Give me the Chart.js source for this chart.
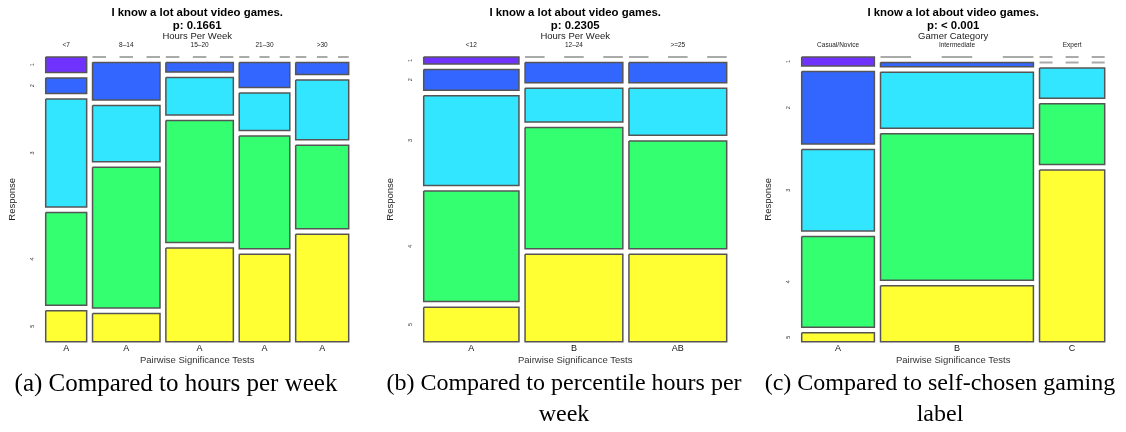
<!DOCTYPE html>
<html>
<head>
<meta charset="utf-8">
<title>I know a lot about video games.</title>
<script src="https://cdn.jsdelivr.net/npm/chart.js@4/dist/chart.umd.min.js"></script>
<style>
  html, body { margin: 0; padding: 0; background: #fff; }
  #figure { position: relative; width: 1126px; height: 432px; overflow: hidden; }
  #figure canvas { position: absolute; top: 0; }
  .caption {
    position: absolute; top: 367px;
    font-family: 'Liberation Serif', 'Times New Roman', serif;
    font-size: 25px; line-height: 31px; text-align: center; color: #000;
  }
  .caption.tight { font-size: 24px; }
</style>
</head>
<body>
<div id="figure">
  <canvas id="mosaicHours" width="370" height="368" style="left:0px"></canvas>
  <canvas id="mosaicPercentile" width="370" height="368" style="left:378px"></canvas>
  <canvas id="mosaicGamer" width="370" height="368" style="left:756px"></canvas>
  <div class="caption" style="left:0px;width:352px">(a) Compared to hours per week</div>
  <div class="caption tight" style="left:374px;width:380px">(b) Compared to percentile hours per week</div>
  <div class="caption tight" style="left:750px;width:380px">(c) Compared to self-chosen gaming label</div>
</div>
<script>
// Likert item and its response levels (1 = top of each column)
const statement = 'I know a lot about video games.';
const responseLevels = ['1', '2', '3', '4', '5'];
const levelColors = ['#7033FF', '#3366FF', '#33E6FF', '#33FF70', '#FFFF33'];

// (a) hours played per week
const hoursLabels = ['<7', '8–14', '15–20', '21–30', '>30'];
const hoursCounts = [
  [1, 1, 7, 6, 2],
  [0, 4, 6, 15, 3],
  [0, 1, 4, 13, 10],
  [0, 2, 3, 9, 7],
  [0, 1, 5, 7, 9]
];
const hoursLetters = ['A', 'A', 'A', 'A', 'A'];
const hoursP = '0.1661';

// (b) percentile groups of hours per week
const percentileLabels = ['<12', '12–24', '>=25'];
const percentileCounts = [
  [1, 3, 13, 16, 5],
  [0, 3, 5, 18, 13],
  [0, 3, 7, 16, 13]
];
const percentileLetters = ['A', 'B', 'AB'];
const percentileP = '0.2305';

// (c) self-chosen gamer category
const gamerLabels = ['Casual/Novice', 'Intermediate', 'Expert'];
const gamerCounts = [
  [1, 8, 9, 10, 1],
  [0, 1, 13, 34, 13],
  [0, 0, 3, 6, 17]
];
const gamerLetters = ['A', 'B', 'C'];
const gamerP = '< 0.001';

const SANS = "'Liberation Sans', Arial, Helvetica, sans-serif";
const TILE_GAP = 0.021;       // spacing between tiles, in unit-square coordinates
const TILE_BORDER = '#555555';
const EMPTY_LINE = '#aaaaaa';

// Split the unit square into columns (width ∝ group size) and cells (height ∝ share).
function mosaicLayout(counts) {
  const colTotals = counts.map(c => c.reduce((a, b) => a + b, 0));
  const grand = colTotals.reduce((a, b) => a + b, 0);
  let x = 0;
  const cols = counts.map((col, i) => {
    const w = colTotals[i] / grand;
    let y = 0;
    const cells = col.map((n, j) => {
      const h = n / colTotals[i];
      const cell = { x0: x, x1: x + w, y0: y, y1: y + h, n: n, level: j };
      y += h + TILE_GAP;
      return cell;
    });
    const column = { x0: x, x1: x + w, center: x + w / 2, cells: cells };
    x += w + TILE_GAP;
    return column;
  });
  return {
    cols: cols,
    xMax: x - TILE_GAP,
    yMax: 1 + TILE_GAP * (responseLevels.length - 1)
  };
}

function tileDatasets(layout) {
  const sets = [];
  layout.cols.forEach(col => {
    col.cells.forEach(c => {
      if (c.n > 0) {
        sets.push({
          data: [
            { x: c.x0, y: c.y0 }, { x: c.x1, y: c.y0 }, { x: c.x1, y: c.y1 },
            { x: c.x0, y: c.y1 }, { x: c.x0, y: c.y0 }
          ],
          showLine: true,
          fill: 'shape',
          backgroundColor: levelColors[c.level],
          borderColor: TILE_BORDER,
          borderWidth: 1.5,
          borderJoinStyle: 'miter',
          pointRadius: 0,
          tension: 0,
          clip: false
        });
      } else {
        // empty cell: dashed line where the tile would sit
        sets.push({
          data: [{ x: c.x0, y: c.y0 }, { x: c.x1, y: c.y0 }],
          showLine: true,
          fill: false,
          borderColor: EMPTY_LINE,
          borderWidth: 2,
          borderDash: (ctx) => {
            const xs = ctx.chart.scales.x;
            const w = Math.abs(xs.getPixelForValue(c.x1) - xs.getPixelForValue(c.x0));
            return [w / 5, w / 5];
          },
          pointRadius: 0,
          tension: 0,
          clip: false
        });
      }
    });
  });
  return sets;
}

function drawMosaic(canvasId, pText, factorName, colLabels, counts, letters) {
  const layout = mosaicLayout(counts);
  const centers = layout.cols.map(c => c.center);
  const firstCol = layout.cols[0].cells;
  const levelCenters = firstCol.map(c => (c.y0 + c.y1) / 2);

  new Chart(document.getElementById(canvasId), {
    type: 'scatter',
    data: { datasets: tileDatasets(layout) },
    options: {
      responsive: false,
      animation: false,
      events: [],
      layout: { padding: { left: 0, right: 21.3, top: 0, bottom: 0 } },
      plugins: {
        legend: { display: false },
        tooltip: { enabled: false },
        title: {
          display: true,
          fullSize: false,
          text: [statement, 'p: ' + pText],
          color: '#000',
          font: { family: SANS, size: 11.4, weight: 'bold', lineHeight: 1.12 },
          padding: { top: 6.6, bottom: 0 }
        },
        subtitle: {
          display: true,
          fullSize: false,
          text: factorName,
          color: '#222',
          font: { family: SANS, size: 9.5, lineHeight: 0.9 },
          padding: { top: 0, bottom: 0 }
        }
      },
      scales: {
        x: {
          type: 'linear', position: 'top', min: 0, max: layout.xMax, bounds: 'data',
          grid: { display: false, drawTicks: false }, border: { display: false },
          ticks: {
            autoSkip: false, minRotation: 0, maxRotation: 0, padding: 7.4,
            color: '#222', font: { family: SANS, size: 6.5 },
            callback: (v, i) => colLabels[i]
          },
          afterBuildTicks: s => { s.ticks = centers.map(value => ({ value })); },
          afterFit: s => { s.height = 16.3; }
        },
        x2: {
          type: 'linear', position: 'bottom', min: 0, max: layout.xMax, bounds: 'data',
          grid: { display: false, drawTicks: false }, border: { display: false },
          ticks: {
            autoSkip: false, minRotation: 0, maxRotation: 0, padding: 1.2,
            color: '#111', font: { family: SANS, size: 9 },
            callback: (v, i) => letters[i]
          },
          title: {
            display: true, text: 'Pairwise Significance Tests', color: '#333',
            font: { family: SANS, size: 9.5 }, padding: { top: 0, bottom: 2.3 }
          },
          afterBuildTicks: s => { s.ticks = centers.map(value => ({ value })); },
          afterFit: s => { s.height = 26.3; }
        },
        y: {
          type: 'linear', position: 'left', reverse: true, min: 0, max: layout.yMax, bounds: 'data',
          grid: { display: false, drawTicks: false }, border: { display: false },
          ticks: {
            autoSkip: false, minRotation: 90, maxRotation: 90, crossAlign: 'center', padding: 11.2,
            color: '#333', font: { family: SANS, size: 5.5 },
            callback: (v, i) => responseLevels[i]
          },
          title: {
            display: true, text: 'Response', color: '#222',
            font: { family: SANS, size: 9.5 }, padding: { top: 6.6, bottom: 0 }
          },
          afterBuildTicks: s => { s.ticks = levelCenters.map(value => ({ value })); },
          afterFit: s => { s.width = 45.7; }
        }
      }
    }
  });
}

drawMosaic('mosaicHours', hoursP, 'Hours Per Week', hoursLabels, hoursCounts, hoursLetters);
drawMosaic('mosaicPercentile', percentileP, 'Hours Per Week', percentileLabels, percentileCounts, percentileLetters);
drawMosaic('mosaicGamer', gamerP, 'Gamer Category', gamerLabels, gamerCounts, gamerLetters);
</script>
</body>
</html>
